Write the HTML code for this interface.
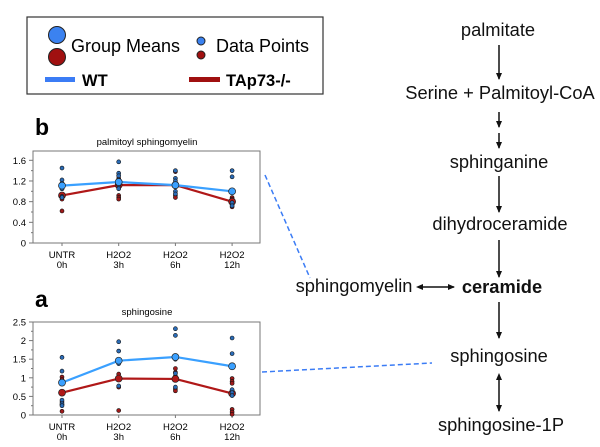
<!DOCTYPE html>
<html><head><meta charset="utf-8">
<style>
body{margin:0;background:#fff;}
svg{display:block;font-family:"Liberation Sans",Arial,sans-serif;}
</style></head>
<body>
<svg id="fig" width="600" height="447" viewBox="0 0 600 447" xmlns="http://www.w3.org/2000/svg">
  <g>
    <rect x="27" y="17" width="296" height="77" fill="#fff" stroke="#333" stroke-width="1.2"/>
    <circle cx="57" cy="35" r="8.5" fill="#3b82f0" stroke="#222" stroke-width="1"/>
    <circle cx="57" cy="57" r="8.5" fill="#a01010" stroke="#222" stroke-width="1"/>
    <text x="71" y="52" font-size="18">Group Means</text>
    <circle cx="201" cy="41" r="4" fill="#3b82f0" stroke="#222" stroke-width="1"/>
    <circle cx="201" cy="55" r="4" fill="#a01010" stroke="#222" stroke-width="1"/>
    <text x="216" y="52" font-size="18">Data Points</text>
    <rect x="45" y="77" width="30" height="5" fill="#3b7cf5"/>
    <text x="82" y="86" font-size="16.5" font-weight="bold">WT</text>
    <rect x="189" y="77" width="31" height="5" fill="#a01010"/>
    <text x="226" y="86" font-size="16.5" font-weight="bold">TAp73-/-</text>
  </g>
  <g id="chartB"></g>
  <g id="chartA"></g>
  <g font-size="18.3" text-anchor="middle" fill="#111">
    <defs>
      <marker id="ah" markerWidth="8" markerHeight="10" refX="6" refY="4" orient="auto" markerUnits="userSpaceOnUse"><path d="M0,1 L7,4 L0,7 z" fill="#111"/></marker>
      <marker id="ahs" markerWidth="8" markerHeight="10" refX="2" refY="4" orient="auto-start-reverse" markerUnits="userSpaceOnUse"><path d="M0,1 L7,4 L0,7 z" fill="#111"/></marker>
    </defs>
    <text x="498" y="36">palmitate</text>
    <line x1="499" y1="45" x2="499" y2="79" stroke="#111" stroke-width="1.5" marker-end="url(#ah)"/>
    <text x="500" y="99">Serine + Palmitoyl-CoA</text>
    <line x1="499" y1="112" x2="499" y2="127" stroke="#111" stroke-width="1.5" marker-end="url(#ah)"/>
    <line x1="499" y1="133" x2="499" y2="148" stroke="#111" stroke-width="1.5" marker-end="url(#ah)"/>
    <text x="499" y="168">sphinganine</text>
    <line x1="499" y1="176" x2="499" y2="212" stroke="#111" stroke-width="1.5" marker-end="url(#ah)"/>
    <text x="500" y="230">dihydroceramide</text>
    <line x1="499" y1="240" x2="499" y2="277" stroke="#111" stroke-width="1.5" marker-end="url(#ah)"/>
    <text x="502" y="293" font-weight="bold">ceramide</text>
    <text x="354" y="292">sphingomyelin</text>
    <line x1="421" y1="287" x2="454" y2="287" stroke="#111" stroke-width="1.5" marker-start="url(#ahs)" marker-end="url(#ah)"/>
    <line x1="499" y1="302" x2="499" y2="338" stroke="#111" stroke-width="1.5" marker-end="url(#ah)"/>
    <text x="499" y="362">sphingosine</text>
    <line x1="499" y1="378" x2="499" y2="411" stroke="#111" stroke-width="1.5" marker-start="url(#ahs)" marker-end="url(#ah)"/>
    <text x="501" y="431">sphingosine-1P</text>
  </g>
  <line x1="265" y1="175" x2="310" y2="278" stroke="#3b7cf5" stroke-width="1.5" stroke-dasharray="5,3"/>
  <line x1="262" y1="372" x2="432" y2="363" stroke="#3b7cf5" stroke-width="1.5" stroke-dasharray="5,3"/>
</svg>
<script>
const categories = ["UNTR|0h","H2O2|3h","H2O2|6h","H2O2|12h"];
const bTicks = [0,0.4,0.8,1.2,1.6];
const bWtPoints = [[1.45,1.22,1.15,1.05,0.9,0.88],[1.57,1.35,1.30,1.22,1.12,1.05],[1.40,1.25,1.2,1.0,0.95],[1.40,1.28,0.78,0.72]];
const bKoPoints = [[1.15,1.05,0.92,0.85,0.62],[1.25,0.92,0.88,0.85],[1.38,1.1,0.92,0.88],[0.88,0.85,0.75,0.70]];
const bWtMeans = [1.11,1.18,1.12,1.0];
const bKoMeans = [0.92,1.12,1.12,0.8];
const aTicks = [0,0.5,1,1.5,2,2.5];
const aWtPoints = [[1.55,1.18,0.4,0.3,0.25],[1.97,1.72,1.45,1.38,0.78],[2.32,2.14,1.5,1.12,0.75],[2.07,1.65,0.68,0.6,0.52]];
const aKoPoints = [[1.02,0.95,0.35,0.28,0.1],[1.1,0.98,0.75,0.12],[1.25,1.15,1.05,0.7,0.65],[0.98,0.9,0.85,0.15,0.08,0.02]];
const aWtMeans = [0.87,1.46,1.56,1.31];
const aKoMeans = [0.6,0.98,0.97,0.58];

const NS="http://www.w3.org/2000/svg";
function mk(parent,tag,attrs){const e=document.createElementNS(NS,tag);for(const k in attrs)e.setAttribute(k,attrs[k]);parent.appendChild(e);return e;}

function drawChart(g,o){
  const L=33,R=260,top=o.top,bot=o.bot,vmax=o.vmax;
  const xs=i=>62+i*56.7;
  const y=v=>bot-(v/vmax)*(bot-top);
  const letter=mk(g,'text',{x:35,y:o.letterY,'font-size':23,'font-weight':'bold'});letter.textContent=o.letter;
  
  
  const t=mk(g,'text',{x:147,y:o.titleY,'font-size':9.5,'text-anchor':'middle'});t.textContent=o.title;
  
  
  const box=mk(g,'rect',{x:L,y:top,width:R-L,height:bot-top,fill:'#fff',stroke:'#777','stroke-width':1});
  
  
  o.ticks.forEach((v,i)=>{
    const ln=mk(g,'line',{x1:L-4,x2:L,y1:y(v),y2:y(v),stroke:'#777'});
    
    
    const tx=mk(g,'text',{x:L-7,y:y(v)+3.5,'font-size':9.5,'text-anchor':'end'});tx.textContent=String(v);
    
    
    if(i<o.ticks.length-1){const mv=(v+o.ticks[i+1])/2;
      const m=mk(g,'line',{x1:L-2,x2:L,y1:y(mv),y2:y(mv),stroke:'#777'});
      
      }
  });
  categories.forEach((c,i)=>{
    const ln=mk(g,'line',{x1:xs(i),x2:xs(i),y1:bot,y2:bot+3,stroke:'#777'});
    
    
    const parts=c.split('|');
    parts.forEach((p,j)=>{const tx=mk(g,'text',{x:xs(i),y:bot+15+j*10,'font-size':9.5,'text-anchor':'middle'});tx.textContent=p;
      
      });
  });
  function series(pts,means,line,dot,name){
    pts.forEach((arr,i)=>arr.forEach(v=>{
      const c=mk(g,'circle',{cx:xs(i),cy:y(v),r:2,fill:dot,stroke:'#111','stroke-width':0.6});
      
      
    }));
    const p=mk(g,'polyline',{points:means.map((v,i)=>xs(i)+','+y(v)).join(' '),fill:'none',stroke:line,'stroke-width':2.2});
    
    
    means.forEach((v,i)=>{
      const c=mk(g,'circle',{cx:xs(i),cy:y(v),r:3.5,fill:line,stroke:'#222','stroke-width':0.7});
      
      
    });
  }
  series(o.ko,o.koM,'#b01818','#a01a1a','tap73');
  series(o.wt,o.wtM,'#3aa0ff','#2a6cb8','wt');
}
drawChart(document.getElementById('chartB'),{top:151,bot:243,vmax:1.78,ticks:bTicks,letter:'b',letterY:135,title:'palmitoyl sphingomyelin',titleY:145,wt:bWtPoints,ko:bKoPoints,wtM:bWtMeans,koM:bKoMeans});
drawChart(document.getElementById('chartA'),{top:322,bot:415,vmax:2.5,ticks:aTicks,letter:'a',letterY:307,title:'sphingosine',titleY:315,wt:aWtPoints,ko:aKoPoints,wtM:aWtMeans,koM:aKoMeans});
</script>
</body></html>
